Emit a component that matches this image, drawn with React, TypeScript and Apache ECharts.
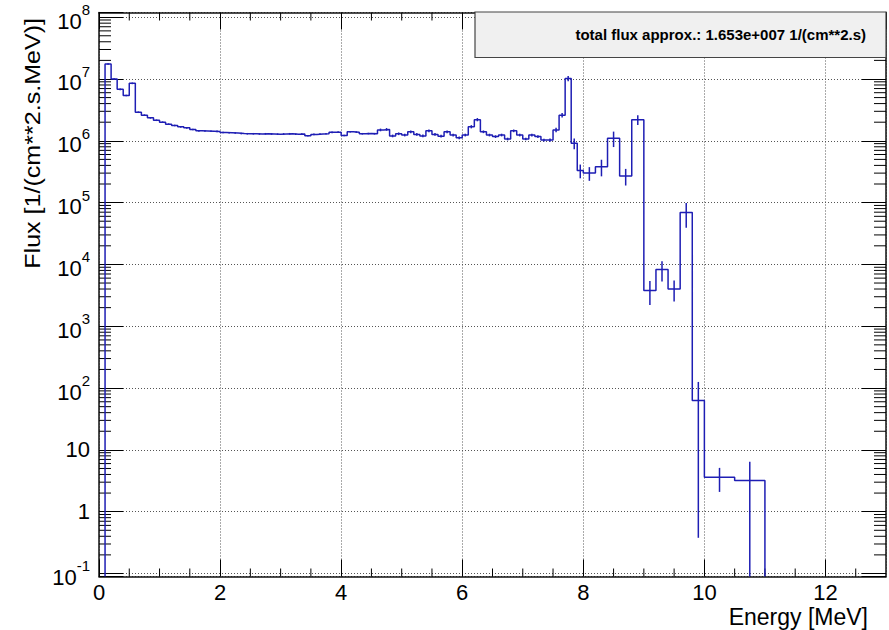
import React, { useEffect, useRef } from "react";
import * as echarts from "echarts";

// Histogram bin edges in MeV (variable width bins)
const binEdges: number[] = [
  0.1, 0.2, 0.3, 0.4, 0.5, 0.6, 0.7, 0.8, 0.9, 1.0,
  1.1, 1.2, 1.3, 1.4, 1.5, 1.6, 1.7, 1.8, 1.9, 2.0,
  2.1, 2.2, 2.3, 2.4, 2.5, 2.6, 2.7, 2.8, 2.9, 3.0,
  3.1, 3.2, 3.3, 3.4, 3.5, 3.6, 3.7, 3.8, 3.9, 4.0,
  4.1, 4.2, 4.3, 4.4, 4.5, 4.6, 4.7, 4.8, 4.9, 5.0,
  5.1, 5.2, 5.3, 5.4, 5.5, 5.6, 5.7, 5.8, 5.9, 6.0,
  6.1, 6.2, 6.3, 6.4, 6.5, 6.6, 6.7, 6.8, 6.9, 7.0,
  7.1, 7.2, 7.3, 7.4, 7.5, 7.6, 7.7, 7.8, 7.9, 8.0,
  8.2, 8.4, 8.6, 8.8, 9.0, 9.2, 9.4, 9.6, 9.8, 10.0,
  10.5, 11.0,
];

// Flux per bin [1/(cm**2.s.MeV)]
const fluxValues: number[] = [
  1.75e7, 1.0e7, 6.8e6, 5.4e6, 8.5e6, 2.9e6, 2.6e6, 2.35e6, 2.15e6,
  2.0e6, 1.86e6, 1.77e6, 1.68e6, 1.62e6, 1.52e6, 1.45e6, 1.44e6, 1.43e6, 1.42e6,
  1.36e6, 1.35e6, 1.34e6, 1.31e6, 1.30e6, 1.30e6, 1.29e6, 1.30e6, 1.29e6, 1.28e6,
  1.29e6, 1.30e6, 1.28e6, 1.29e6, 1.21e6, 1.27e6, 1.29e6, 1.30e6, 1.37e6, 1.38e6,
  1.22e6, 1.40e6, 1.38e6, 1.30e6, 1.31e6, 1.30e6, 1.50e6, 1.53e6, 1.20e6, 1.30e6,
  1.24e6, 1.40e6, 1.27e6, 1.20e6, 1.45e6, 1.27e6, 1.19e6, 1.40e6, 1.24e6, 1.12e6,
  1.24e6, 1.69e6, 2.2e6, 1.40e6, 1.24e6, 1.17e6, 1.24e6, 1.07e6, 1.45e6, 1.24e6,
  1.07e6, 1.24e6, 1.17e6, 1.03e6, 1.03e6, 1.5e6, 2.6e6, 1.02e7, 9.1e5, 3.3e5,
  3.0e5, 3.8e5, 1.1e6, 2.7e5, 2.2e6, 3.8e3, 8.3e3, 4.0e3, 6.9e4, 63,
  3.6, 3.2,
];

// Relative statistical error per bin
const fluxRelErr: number[] = [
  0.03, 0.03, 0.03, 0.03, 0.03, 0.03, 0.03, 0.03, 0.03,
  0.03, 0.03, 0.03, 0.03, 0.03, 0.03, 0.03, 0.03, 0.03, 0.03,
  0.03, 0.03, 0.03, 0.03, 0.03, 0.03, 0.03, 0.03, 0.03, 0.03,
  0.03, 0.03, 0.03, 0.03, 0.03, 0.03, 0.03, 0.03, 0.03, 0.03,
  0.03, 0.03, 0.03, 0.03, 0.03, 0.03, 0.05, 0.05, 0.05, 0.05,
  0.05, 0.05, 0.05, 0.05, 0.05, 0.05, 0.05, 0.05, 0.05, 0.05,
  0.05, 0.06, 0.06, 0.05, 0.05, 0.05, 0.05, 0.05, 0.05, 0.05,
  0.05, 0.05, 0.05, 0.05, 0.06, 0.08, 0.08, 0.1, 0.2, 0.25,
  0.25, 0.3, 0.28, 0.3, 0.18, 0.42, 0.36, 0.37, 0.43, 0.994,
  0.42, 1.01,
];

const statsText = "total flux approx.: 1.653e+007 1/(cm**2.s)";
const xTitle = "Energy [MeV]";
const yTitle = "Flux [1/(cm**2.s.MeV)]";

const X_MIN = 0;
const X_MAX = 13;
const Y_MIN = 0.0894;
const Y_MAX = 1.19e8;

const FONT = '"Liberation Sans", Arial, Helvetica, sans-serif';
const LINE_COLOR = "#1e1eb4";

export default function App() {
  const ref = useRef<HTMLDivElement>(null);

  useEffect(() => {
    if (!ref.current) return;
    document.body.style.margin = "0";
    const chart = echarts.init(ref.current, undefined, { renderer: "svg" });

    const stepPts: number[][] = [[binEdges[0], Y_MIN]];
    fluxValues.forEach((v, i) => {
      stepPts.push([binEdges[i], v], [binEdges[i + 1], v]);
    });
    stepPts.push([binEdges[binEdges.length - 1], Y_MIN]);

    const errData = fluxValues.map((v, i) => [
      (binEdges[i] + binEdges[i + 1]) / 2,
      v,
      v * fluxRelErr[i],
    ]);

    const yMinor: number[][] = [];
    for (let e = -1; e <= 8; e++) {
      for (let m = 2; m <= 9; m++) {
        const v = m * Math.pow(10, e);
        if (v > Y_MIN && v < Y_MAX) yMinor.push([X_MIN, v]);
      }
    }
    const xMinor: number[][] = [];
    for (let k = 1; k < 26; k++) {
      const x = k * 0.5;
      if (x % 2 !== 0) xMinor.push([x, 1]);
    }

    const axisLineStyle = { color: "#111", width: 1.5 };
    const tickStyle = { color: "#000", width: 1 };

    const option: any = {
      animation: false,
      backgroundColor: "#fff",
      grid: { left: 99, right: 3, top: 12.5, bottom: 53.5, containLabel: false },
      xAxis: [
        {
          type: "value",
          min: X_MIN,
          max: X_MAX,
          interval: 2,
          position: "bottom",
          axisLine: { show: true, onZero: false, lineStyle: axisLineStyle },
          axisTick: { show: true, inside: true, length: 17, lineStyle: tickStyle },
          axisLabel: {
            show: true,
            fontSize: 22,
            fontFamily: FONT,
            color: "#000",
            margin: 5,
            showMaxLabel: false,
          },
          splitLine: { show: true, lineStyle: { type: [1, 2], color: "#555", width: 1 } },
        },
        {
          type: "value",
          min: X_MIN,
          max: X_MAX,
          interval: 2,
          position: "top",
          axisLine: { show: true, onZero: false, lineStyle: axisLineStyle },
          axisTick: { show: true, inside: true, length: 17, lineStyle: tickStyle },
          axisLabel: { show: false },
          splitLine: { show: false },
        },
      ],
      yAxis: [
        {
          type: "log",
          logBase: 10,
          min: Y_MIN,
          max: Y_MAX,
          position: "left",
          axisLine: { show: true, onZero: false, lineStyle: axisLineStyle },
          axisTick: { show: true, inside: true, length: 24, lineStyle: tickStyle },
          axisLabel: {
            show: true,
            margin: 9,
            fontSize: 22,
            fontFamily: FONT,
            color: "#000",
            formatter: (val: number) => {
              const lg = Math.log10(val);
              const ex = Math.round(lg);
              if (Math.abs(lg - ex) > 0.01) return "";
              if (ex === 0) return "1";
              if (ex === 1) return "10";
              return `{b|10}{s|${ex}}`;
            },
            rich: {
              b: { fontSize: 22, fontFamily: FONT, color: "#000", lineHeight: 30, verticalAlign: "bottom" },
              s: { fontSize: 15, fontFamily: FONT, color: "#000", lineHeight: 30, verticalAlign: "top" },
            },
          },
          splitLine: { show: true, lineStyle: { type: [1, 2], color: "#555", width: 1 } },
        },
        {
          type: "log",
          logBase: 10,
          min: Y_MIN,
          max: Y_MAX,
          position: "right",
          axisLine: { show: true, onZero: false, lineStyle: axisLineStyle },
          axisTick: { show: true, inside: true, length: 24, lineStyle: tickStyle },
          axisLabel: { show: false },
          splitLine: { show: false },
        },
      ],
      series: [
        {
          type: "line",
          xAxisIndex: 0,
          yAxisIndex: 0,
          data: stepPts,
          showSymbol: false,
          symbol: "none",
          clip: true,
          lineStyle: { color: LINE_COLOR, width: 1.5 },
          z: 5,
        },
        {
          type: "custom",
          xAxisIndex: 0,
          yAxisIndex: 0,
          data: errData,
          z: 5,
          renderItem: (_p: any, api: any) => {
            const c = api.value(0);
            const v = api.value(1);
            const e = api.value(2);
            const lo = Math.max(v - e, Y_MIN);
            const p1 = api.coord([c, v + e]);
            const p2 = api.coord([c, lo]);
            return {
              type: "line",
              shape: { x1: p1[0], y1: p1[1], x2: p2[0], y2: p2[1] },
              style: { stroke: LINE_COLOR, lineWidth: 1.5 },
            };
          },
        },
        {
          type: "custom",
          xAxisIndex: 0,
          yAxisIndex: 0,
          data: yMinor,
          z: 3,
          renderItem: (_p: any, api: any) => {
            const v = api.value(1);
            const l = api.coord([X_MIN, v]);
            const r = api.coord([X_MAX, v]);
            return {
              type: "group",
              children: [
                { type: "line", shape: { x1: l[0], y1: l[1], x2: l[0] + 12, y2: l[1] }, style: { stroke: "#000", lineWidth: 1 } },
                { type: "line", shape: { x1: r[0] - 12, y1: r[1], x2: r[0], y2: r[1] }, style: { stroke: "#000", lineWidth: 1 } },
              ],
            };
          },
        },
        {
          type: "custom",
          xAxisIndex: 0,
          yAxisIndex: 0,
          data: xMinor,
          z: 3,
          renderItem: (_p: any, api: any) => {
            const x = api.value(0);
            const b = api.coord([x, Y_MIN]);
            const t = api.coord([x, Y_MAX]);
            return {
              type: "group",
              children: [
                { type: "line", shape: { x1: b[0], y1: b[1], x2: b[0], y2: b[1] - 8 }, style: { stroke: "#000", lineWidth: 1 } },
                { type: "line", shape: { x1: t[0], y1: t[1], x2: t[0], y2: t[1] + 8 }, style: { stroke: "#000", lineWidth: 1 } },
              ],
            };
          },
        },
      ],
      graphic: [
        {
          type: "rect",
          z: 100,
          shape: { x: 475, y: 12, width: 411, height: 45.5 },
          style: { fill: "#f0f0f0", stroke: "#444", lineWidth: 1.2 },
        },
        {
          type: "text",
          z: 101,
          x: 866,
          y: 34,
          style: {
            text: statsText,
            font: `bold 15px ${FONT}`,
            fill: "#000",
            align: "right",
            verticalAlign: "middle",
          },
        },
        {
          type: "text",
          z: 101,
          x: 868,
          y: 617,
          style: {
            text: xTitle,
            font: `23px ${FONT}`,
            fill: "#000",
            align: "right",
            verticalAlign: "middle",
          },
        },
        {
          type: "text",
          z: 101,
          x: 33,
          y: 18,
          rotation: Math.PI / 2,
          scaleX: 1.14,
          style: {
            text: yTitle,
            font: `22px ${FONT}`,
            fill: "#000",
            align: "right",
            verticalAlign: "middle",
          },
        },
      ],
    };

    chart.setOption(option);
    return () => chart.dispose();
  }, []);

  return (
    <div
      ref={ref}
      style={{ position: "absolute", left: 0, top: 0, width: 889, height: 630 }}
    />
  );
}
